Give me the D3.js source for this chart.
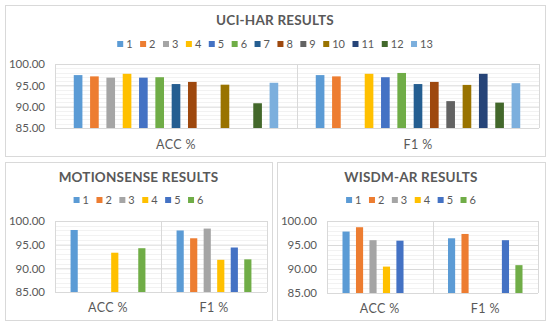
<!DOCTYPE html>
<html>
<head>
<meta charset="utf-8">
<script src="https://cdn.jsdelivr.net/npm/d3@7"></script>
<style>
  body { margin: 0; background: #fff; }
  svg { display: block; }
  text { font-family: Lato, "Open Sans", sans-serif; fill: #595959; }
</style>
</head>
<body>
<div id="chart"></div>
<script>
// values (null = no bar shown)
var categories = ["ACC %", "F1 %"];
var yTicks = [85, 90, 95, 100];

var uciSeries = ["1", "2", "3", "4", "5", "6", "7", "8", "9", "10", "11", "12", "13"];
var uciAcc = [97.4, 97.1, 96.8, 97.7, 96.8, 96.9, 95.3, 95.8, null, 95.15, null, 90.8, 95.6];
var uciF1  = [97.4, 97.1, null, 97.7, 96.9, 97.9, 95.3, 95.8, 91.3, 95.1, 97.7, 90.95, 95.5];

var motionSeries = ["1", "2", "3", "4", "5", "6"];
var motionAcc = [98.1, null, null, 93.3, null, 94.25];
var motionF1  = [98.0, 96.35, 98.4, 91.8, 94.4, 91.9];

var wisdmSeries = ["1", "2", "3", "4", "5", "6"];
var wisdmAcc = [97.8, 98.7, 96.0, 90.5, 95.9, null];
var wisdmF1  = [96.4, 97.3, null, null, 96.0, 90.8];

var colors = ["#5B9BD5", "#ED7D31", "#A5A5A5", "#FFC000", "#4472C4", "#70AD47",
              "#255E91", "#9E480E", "#636363", "#997300", "#264478", "#43682B", "#7CAFDD"];

var svg = d3.select("#chart").append("svg")
    .attr("width", 550)
    .attr("height", 324);

function drawPanel(p) {
  var g = svg.append("g");

  g.append("rect")
    .attr("x", p.box[0] + 0.5).attr("y", p.box[1] + 0.5)
    .attr("width", p.box[2] - p.box[0]).attr("height", p.box[3] - p.box[1])
    .attr("fill", "#fff").attr("stroke", "#D9D9D9");

  var cx = (p.box[0] + p.box[2]) / 2;

  g.append("text")
    .attr("x", cx).attr("y", p.titleY)
    .attr("text-anchor", "middle")
    .style("font-size", "13.5px").style("font-weight", "bold")
    .style("letter-spacing", "0.2px")
    .text(p.title);

  // legend, centred on the panel
  var leg = g.append("g");
  var lx = 0;
  p.series.forEach(function(s, i) {
    var item = leg.append("g").attr("transform", "translate(" + lx + ",0)");
    item.append("rect").attr("x", 0).attr("y", -3).attr("width", 6).attr("height", 6)
      .attr("fill", colors[i]);
    var t = item.append("text").attr("x", 9).attr("y", 4)
      .style("font-size", "11px").text(s);
    lx += 9 + t.node().getComputedTextLength() + 7.5;
  });
  lx -= 7.5;
  leg.attr("transform", "translate(" + (cx - lx / 2) + "," + p.legendY + ")");

  var x0 = d3.scaleBand().domain(categories).range([p.plot[0], p.plot[1]]);
  var x1 = d3.scaleBand().domain(p.series)
      .range([0, x0.bandwidth()])
      .paddingInner(0.47).paddingOuter(1.15);
  var y = d3.scaleLinear().domain([85, 100]).range([p.plot[3], p.plot[2]]);

  // minor gridlines
  g.append("g").selectAll("line")
    .data(d3.range(86, 100).filter(function(v) { return v % 5 !== 0; }))
    .enter().append("line")
    .attr("x1", p.plot[0]).attr("x2", p.plot[1])
    .attr("y1", function(d) { return Math.round(y(d)) + 0.5; })
    .attr("y2", function(d) { return Math.round(y(d)) + 0.5; })
    .attr("stroke", "#F2F2F2");

  // y axis with major gridlines
  var yAxis = d3.axisLeft(y).tickValues(yTicks)
      .tickSize(-(p.plot[1] - p.plot[0])).tickPadding(10)
      .tickFormat(d3.format(".2f"));
  var ya = g.append("g").attr("transform", "translate(" + p.plot[0] + ",0)").call(yAxis);
  ya.select(".domain").remove();
  ya.selectAll(".tick line").attr("stroke", "#D9D9D9");
  ya.selectAll(".tick text").style("font-size", "11.5px").style("fill", "#595959")
    .style("font-family", "Lato, sans-serif");

  // vertical category dividers
  g.append("g").selectAll("line")
    .data([p.plot[0], x0(categories[1]), p.plot[1]])
    .enter().append("line")
    .attr("x1", function(d) { return Math.round(d) + 0.5; })
    .attr("x2", function(d) { return Math.round(d) + 0.5; })
    .attr("y1", p.plot[2]).attr("y2", p.plot[3])
    .attr("stroke", "#D9D9D9");

  // bars
  var rows = categories.map(function(c, ci) {
    return { cat: c, vals: p.values[ci] };
  });
  g.append("g").selectAll("g")
    .data(rows)
    .enter().append("g")
    .attr("transform", function(d) { return "translate(" + x0(d.cat) + ",0)"; })
    .selectAll("rect")
    .data(function(d) {
      return d.vals.map(function(v, i) { return { s: p.series[i], v: v, i: i }; })
        .filter(function(e) { return e.v !== null; });
    })
    .enter().append("rect")
    .attr("x", function(d) { return x1(d.s); })
    .attr("width", x1.bandwidth())
    .attr("y", function(d) { return y(d.v); })
    .attr("height", function(d) { return y(85) - y(d.v); })
    .attr("fill", function(d) { return colors[d.i]; });

  // category labels
  g.append("g").selectAll("text")
    .data(categories)
    .enter().append("text")
    .attr("x", function(d) { return x0(d) + x0.bandwidth() / 2; })
    .attr("y", p.catY)
    .attr("text-anchor", "middle")
    .style("font-size", "12.5px")
    .style("letter-spacing", "0.4px")
    .text(function(d) { return d; });
}

drawPanel({
  title: "UCI-HAR RESULTS", series: uciSeries, values: [uciAcc, uciF1],
  box: [5, 5, 545, 156], plot: [55, 539, 64, 128],
  titleY: 25, legendY: 44, catY: 149
});
drawPanel({
  title: "MOTIONSENSE RESULTS", series: motionSeries, values: [motionAcc, motionF1],
  box: [5, 162, 272, 320], plot: [55, 267, 221, 292],
  titleY: 182, legendY: 200, catY: 312
});
drawPanel({
  title: "WISDM-AR RESULTS", series: wisdmSeries, values: [wisdmAcc, wisdmF1],
  box: [277, 162, 545, 320], plot: [327, 538, 221, 293],
  titleY: 182, legendY: 200, catY: 313
});
</script>
</body>
</html>
